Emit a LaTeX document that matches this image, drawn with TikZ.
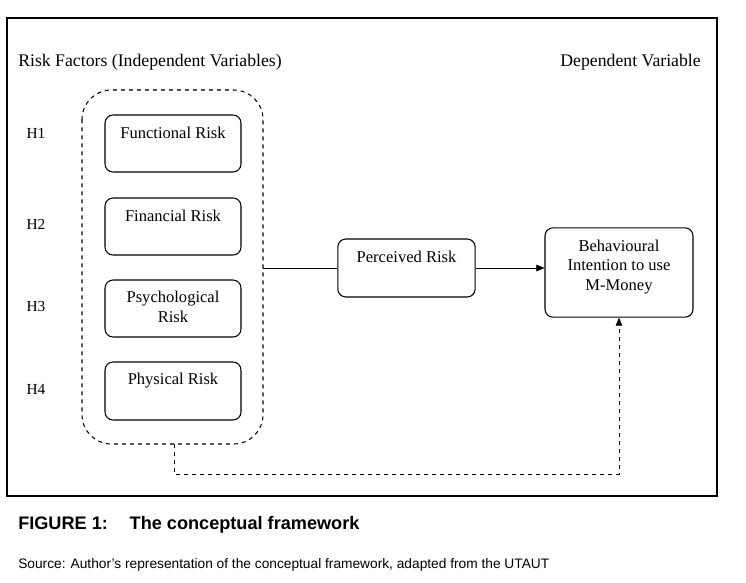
\documentclass[tikz,border=0pt]{standalone}
\usepackage{fontspec}
\setmainfont{Liberation Serif}
\setsansfont{Liberation Sans}
\usetikzlibrary{positioning,arrows.meta}
\tikzset{
  box/.style={draw, rounded corners=6pt, thick},
  txt/.style={font=\fontsize{12.4}{14.5}\selectfont, align=center, inner sep=0pt},
  head/.style={font=\fontsize{13.3}{15}\selectfont, inner sep=0pt},
  hyp/.style={font=\fontsize{11.5}{13}\selectfont, inner sep=0pt},
  arr/.style={-{Triangle[length=6pt,width=5pt]}, thin},
}
\begin{document}
\begin{tikzpicture}[x=0.75pt,y=-0.75pt]
\useasboundingbox (0,0) rectangle (746,582);
% frame
\draw[thick] (7,18) rectangle (717,496);
\node[head, anchor=west] (indep) at (18,62) {Risk Factors (Independent Variables)};
\node[head, anchor=east] (dep) at (701,62) {Dependent Variable};
% group of risk factors
\draw[box, dashed, rounded corners=22pt] (82,90) rectangle (263,444);
\coordinate (grpE) at (263,268);
\coordinate (grpS) at (174,444);
\foreach \y/\h in {133/H1, 224/H2, 306/H3, 389/H4}
  \node[hyp] (h\y) at (36,\y) {\h};
\draw[box] (105,115) rectangle (241,172);
\node[txt] (fr) at (173,133) {Functional Risk};
\draw[box] (105,198) rectangle (241,255);
\node[txt] (fin) at (173,216) {Financial Risk};
\draw[box] (105,280) rectangle (241,337);
\node[txt] (psy) at (173,307) {Psychological\\Risk};
\draw[box] (105,362) rectangle (241,420);
\node[txt] (phy) at (173,381) {Physical Risk};
% perceived risk and intention
\node[box, minimum width=103pt, minimum height=43.5pt] (pr) at (406.5,268) {};
\node[txt] (prt) at (406.5,257) {Perceived Risk};
\node[box, minimum width=111pt, minimum height=67pt] (bi) at (619,272.5) {};
\node[txt] (bit) at (619,267) {Behavioural\\Intention to use\\M-Money};
\draw (grpE) -- (pr.west);
\draw[arr] (pr.east) -- (bi.west |- pr.east);
\draw[arr, dashed] (grpS) -- (174,474) -| (bi.south);
% caption
\node[anchor=west, inner sep=0pt, font=\sffamily\bfseries\fontsize{13.6}{15}\selectfont] (cap) at (18,525) {FIGURE 1:\hspace{1.2em}The conceptual framework};
\node[anchor=west, inner sep=0pt, font=\sffamily\fontsize{10.3}{12}\selectfont] (src) at (18,565) {Source: Author’s representation of the conceptual framework, adapted from the UTAUT};
\end{tikzpicture}
\end{document}
